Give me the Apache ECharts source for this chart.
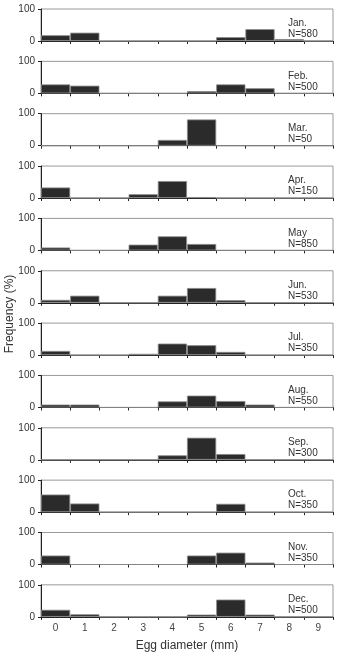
<!DOCTYPE html>
<html>
<head>
<meta charset="utf-8">
<script src="https://cdn.jsdelivr.net/npm/echarts@6/dist/echarts.min.js"></script>
<style>
  html, body { margin: 0; padding: 0; background: #fff; }
  #chart { width: 337px; height: 653px; }
</style>
</head>
<body>
<div id="chart"></div>
<script>
// egg diameter classes (mm)
var diameters = ["0", "1", "2", "3", "4", "5", "6", "7", "8", "9"];
var months = ["Jan.", "Feb.", "Mar.", "Apr.", "May", "Jun.", "Jul.", "Aug.", "Sep.", "Oct.", "Nov.", "Dec."];
var sampleSizes = [580, 500, 50, 150, 850, 530, 350, 550, 300, 350, 350, 500];

// frequency (%) per diameter class, one array per month
var jan = [18, 26, 0, 0, 0, 0, 12, 37, 6, 0];
var feb = [28, 24, 0, 0, 0, 7, 28, 16, 0, 0];
var mar = [0, 0, 0, 0, 18, 82, 0, 0, 0, 0];
var apr = [33, 0, 0, 12, 53, 3, 0, 0, 0, 0];
var may = [9, 0, 0, 18, 44, 20, 0, 0, 0, 0];
var jun = [9, 22, 0, 0, 22, 46, 8, 0, 0, 0];
var jul = [13, 0, 0, 4, 36, 31, 10, 0, 0, 0];
var aug = [9, 9, 0, 0, 19, 37, 20, 9, 0, 0];
var sep = [0, 0, 0, 0, 14, 69, 18, 0, 0, 0];
var oct = [55, 27, 0, 0, 0, 0, 26, 0, 0, 0];
var nov = [28, 0, 0, 0, 0, 28, 37, 6, 0, 0];
var dec = [22, 8, 0, 0, 0, 7, 54, 7, 0, 0];
var monthValues = [jan, feb, mar, apr, may, jun, jul, aug, sep, oct, nov, dec];

var chart = echarts.init(document.getElementById("chart"));
var font = "Liberation Sans, Arial, sans-serif";
var grids = [], xAxes = [], yAxes = [], series = [], titles = [];
var top0 = 9, step = 52.35, h = 32;

for (var i = 0; i < 12; i++) {
  var last = i === 11;
  var t = top0 + i * step;
  grids.push({
    left: 41, right: 4, top: t, height: h,
    show: true, borderColor: "#999", borderWidth: 1
  });
  xAxes.push({
    type: "category", gridIndex: i, data: diameters,
    axisLine: { lineStyle: { color: "#222", width: 1 } },
    axisTick: { show: true, length: 3, interval: 0, lineStyle: { color: "#222" } },
    axisLabel: { show: last, color: "#444", fontSize: 10, fontFamily: font, margin: 6 },
    name: last ? "Egg diameter (mm)" : "",
    nameLocation: "middle", nameGap: 23,
    nameTextStyle: { color: "#333", fontSize: 12, fontFamily: font }
  });
  yAxes.push({
    type: "value", gridIndex: i, min: 0, max: 100, interval: 100,
    axisLine: { show: true, lineStyle: { color: "#222" } },
    axisTick: { show: true, length: 3, lineStyle: { color: "#222" } },
    splitLine: { show: false },
    axisLabel: { color: "#333", fontSize: 10, fontFamily: font, margin: 6 }
  });
  series.push({
    type: "bar", xAxisIndex: i, yAxisIndex: i, data: monthValues[i],
    barCategoryGap: 0,
    itemStyle: { color: "#2b2b2b", borderColor: "#8a8a8a", borderWidth: 0.8 },
    silent: true
  });
  titles.push({
    text: months[i] + "\nN=" + sampleSizes[i],
    left: 283, top: t + 4,
    textStyle: { color: "#333", fontSize: 10, fontWeight: "normal", fontFamily: font, lineHeight: 11 }
  });
}

chart.setOption({
  animation: false,
  title: titles,
  grid: grids,
  xAxis: xAxes,
  yAxis: yAxes,
  series: series,
  graphic: [{
    type: "text",
    x: 10, y: 314,
    rotation: Math.PI / 2,
    style: {
      text: "Frequency (%)", fill: "#333", fontSize: 12, fontFamily: font,
      align: "center", verticalAlign: "middle"
    }
  }]
});
</script>
</body>
</html>
